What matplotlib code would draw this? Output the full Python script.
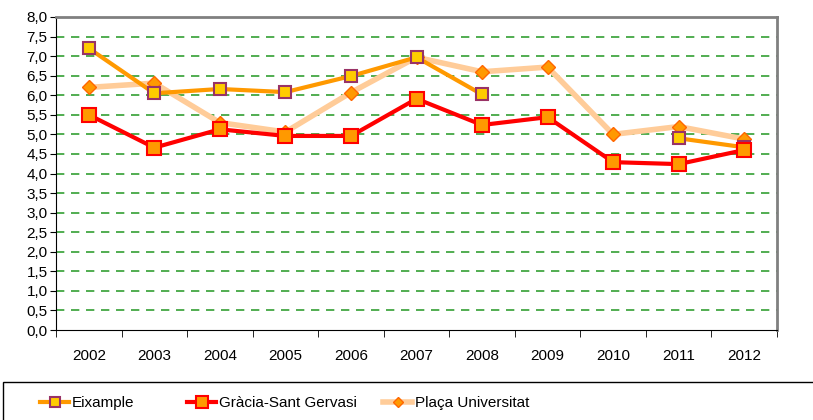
import matplotlib
matplotlib.use("Agg")
import matplotlib.pyplot as plt
from matplotlib.patches import Rectangle
from matplotlib import font_manager

# Data
years = ['2002', '2003', '2004', '2005', '2006', '2007', '2008', '2009', '2010', '2011', '2012']
eixample = [7.2, 6.05, 6.16, 6.08, 6.49, 6.97, 6.02, None, None, 4.9, 4.67]
gracia = [5.5, 4.66, 5.13, 4.96, 4.96, 5.91, 5.24, 5.44, 4.29, 4.24, 4.6]
placa = [6.2, 6.31, 5.3, 5.06, 6.07, 6.97, 6.6, 6.72, 5.0, 5.2, 4.88]

names = {f.name for f in font_manager.fontManager.ttflist}
fam = 'Liberation Sans Narrow' if 'Liberation Sans Narrow' in names else 'Liberation Sans'
plt.rcParams['font.family'] = [fam, 'DejaVu Sans']

fig = plt.figure(figsize=(8.13, 4.2), dpi=100)
ax = fig.add_axes([56 / 813, 1 - 330 / 420, 721 / 813, 313 / 420])

x = list(range(len(years)))


def to_float(vals):
    return [float('nan') if v is None else v for v in vals]


l_placa, = ax.plot(x, to_float(placa), color='#FFCC99', lw=4, marker='D', ms=7,
                   mfc='#FF9900', mec='#FF6600', mew=1, zorder=3)
l_eix, = ax.plot(x, to_float(eixample), color='#FF9900', lw=3, marker='s', ms=9,
                 mfc='#FFCC00', mec='#993366', mew=1.5, zorder=4)
l_gra, = ax.plot(x, to_float(gracia), color='#FF0000', lw=3, marker='s', ms=10,
                 mfc='#FF9900', mec='#FF0000', mew=1.5, zorder=5)

ax.set_xlim(-0.5, len(years) - 0.5)
ax.set_ylim(0, 8)
ax.set_yticks([i * 0.5 for i in range(17)])
ax.set_yticklabels([f'{i * 0.5:.1f}'.replace('.', ',') for i in range(17)])
for i in range(1, 16):
    ax.axhline(i * 0.5, color='#33A033', lw=1.2, ls=(0, (5, 4)), zorder=1)

ax.set_xticks(x)
ax.set_xticklabels(years)
ax.set_xticks([i - 0.5 for i in range(len(years) + 1)], minor=True)
ax.tick_params(axis='x', which='major', length=0, pad=14, labelsize=11)
ax.tick_params(axis='x', which='minor', length=5, direction='out', color='black')
ax.tick_params(axis='y', length=4, direction='out', labelsize=11, pad=2)

ax.spines['top'].set_color('#808080')
ax.spines['right'].set_color('#808080')
ax.spines['top'].set_linewidth(2)
ax.spines['right'].set_linewidth(2)
ax.spines['left'].set_color('black')
ax.spines['bottom'].set_color('black')

# legend box at the bottom, partly cut off by the figure edge
fig.patches.append(Rectangle((3 / 813, -0.05), 1.0, (420 - 382) / 420 + 0.05,
                             transform=fig.transFigure, fill=False,
                             edgecolor='black', lw=1))
entries = [(l_eix, 'Eixample', 40), (l_gra, 'Gràcia-Sant Gervasi', 187),
           (l_placa, 'Plaça Universitat', 383)]
for handle, text, px in entries:
    lg = fig.legend([handle], [text], loc='center left',
                    bbox_to_anchor=(px / 813, 1 - 403 / 420), frameon=False,
                    fontsize=11, handlelength=1.9, handletextpad=0.2,
                    markerscale=0.8, borderpad=0, borderaxespad=0)

fig.savefig('out.png', dpi=100)
